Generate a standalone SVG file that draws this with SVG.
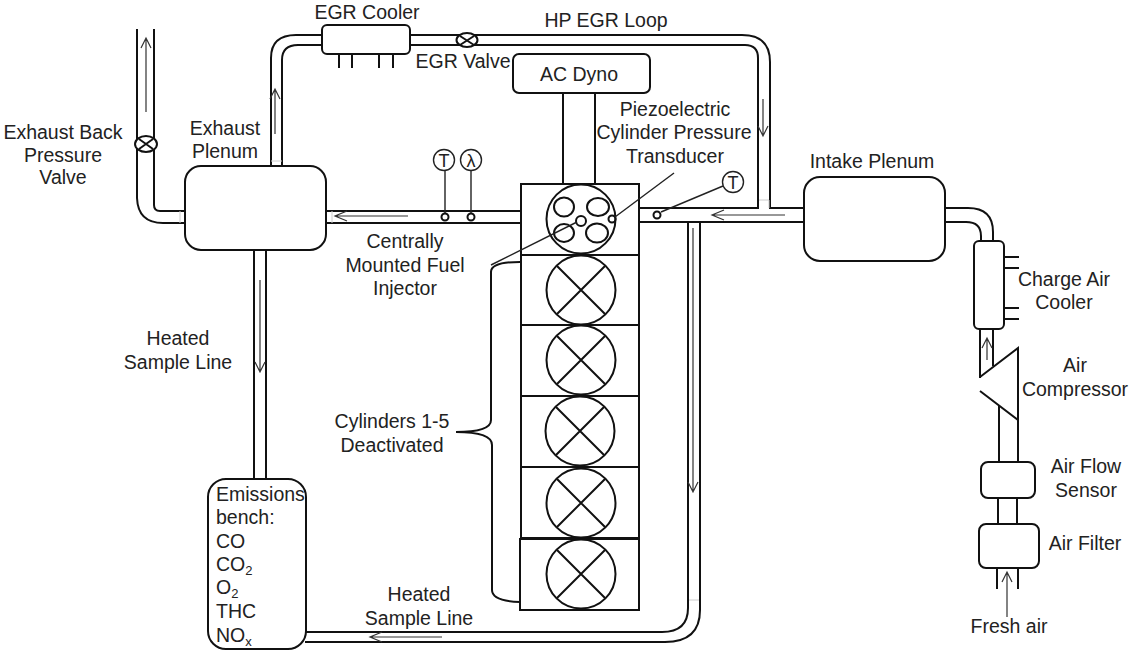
<svg xmlns="http://www.w3.org/2000/svg" width="1137" height="651" viewBox="0 0 1137 651">
<style>
text{font-family:"Liberation Sans",Arial,sans-serif;font-size:19.500px;fill:#222;text-anchor:middle}
.l{text-anchor:start}
.s{font-size:13px}
.t{font-size:18px}
.p{fill:none;stroke:#111;stroke-width:2}
.b{fill:#fff;stroke:#111;stroke-width:2}
.a{fill:none;stroke:#333;stroke-width:1.200}
.f{fill:none;stroke:#222;stroke-width:1.400}
.g{fill:none;stroke:#ccc;stroke-width:1}
</style>
<defs>
<g id="xc"><circle r="34.500" class="b"/><path class="p" d="M-24-24 24 24M-24 24 24-24"/></g>
</defs>
<g id="connectors">
<path class="p" d="M137 29V198Q138 223 163 223H186"/>
<path class="p" d="M154 29V205Q154 211 160 211H186"/>
<path class="p" d="M271 166V58Q271 35 296 35H323"/>
<path class="p" d="M282 166V60Q282 45 298 45H323"/>
<path class="p" d="M410 35H742Q770 35 770 62V208H804"/>
<path class="p" d="M410 45H745Q758 45 758 58V208H639"/>
<path class="p" d="M326 211H522M326 223H523"/>
<path class="p" d="M639 222H804"/>
<path class="p" d="M563 93V184M595 93V184"/>
<path class="p" d="M254 249V479M266 249V479"/>
<path class="p" d="M688 222V608Q688 632 662 632H305"/>
<path class="p" d="M700 222V610Q700 642 665 642H305"/>
<path class="p" d="M945 208H968Q993 208 993 232V241M945 222H966Q981 222 981 236V241"/>
<path class="p" d="M980 329V378M993 329V366"/>
<path class="p" d="M999 406V462M1018 419V462M998 498V524M1017 498V524M997 568V589M1018 568V589"/>
<path class="p" d="M339 54V68M352 54V68M379 54V68M393 54V68"/>
<path class="p" d="M1004 257H1019M1004 268H1019M1004 308H1019M1004 319H1019"/>
<path class="g" d="M180 211V223M271 161H282M332 211V223M759 200H769V208M689 600H699"/>
</g>
<g id="flow-arrows">
<path class="a" d="M146 112V38M141 48 146 38 151 48"/>
<path class="a" d="M275 134V89M270 99 275 89 280 99"/>
<path class="a" d="M408 216H335M347 211 335 216 347 221"/>
<path class="a" d="M763 99V136M758 126 763 136 768 126"/>
<path class="a" d="M785 215H712M724 210 712 215 724 220"/>
<path class="a" d="M260 280V372M255 362 260 372 265 362"/>
<path class="a" d="M693 228V492M688 482 693 492 698 482"/>
<path class="a" d="M442 637H370M382 632 370 637 382 642"/>
<path class="a" d="M987 360V338M982 348 987 338 992 348"/>
<path class="a" d="M1007 617V572M1002 582 1007 572 1012 582"/>
</g>
<g id="egr-valve"><ellipse cx="467" cy="40" rx="10.500" ry="7" class="b"/><path class="p" d="M460 36 474 45M460 45 474 36"/></g>
<g id="back-valve"><ellipse cx="146" cy="144" rx="11" ry="8" class="b"/><path class="p" d="M139 139 153 149M139 149 153 139"/></g>
<g id="egr-cooler"><rect x="322" y="25" width="88" height="29" rx="5" class="b"/></g>
<g id="ac-dyno"><rect x="513" y="54" width="137" height="39" rx="6" class="b"/><text x="579" y="81">AC Dyno</text></g>
<g id="exhaust-plenum"><rect x="185" y="166" width="141" height="84" rx="16" class="b"/></g>
<g id="intake-plenum"><rect x="804" y="177" width="141" height="84" rx="16" class="b"/></g>
<g id="charge-air-cooler"><rect x="974" y="241" width="30" height="88" rx="5" class="b"/></g>
<g id="compressor"><path class="p" d="M980 377 1018 348V420L980 391"/></g>
<g id="air-flow-sensor"><rect x="981" y="462" width="54" height="36" rx="7" class="b"/></g>
<g id="air-filter"><rect x="979" y="524" width="60" height="44" rx="7" class="b"/></g>
<g id="emissions-bench"><rect x="208" y="479" width="98" height="170" rx="18" class="b"/>
<text class="l" x="216" y="501">Emissions</text><text class="l" x="216" y="524">bench:</text><text class="l" x="216" y="548">CO</text>
<text class="l" x="216" y="571">CO<tspan class="s" dy="4">2</tspan></text>
<text class="l" x="216" y="594">O<tspan class="s" dy="4">2</tspan></text>
<text class="l" x="216" y="618">THC</text>
<text class="l" x="216" y="642">NO<tspan class="s" dy="4">x</tspan></text></g>
<g id="cylinder-0"><rect x="521" y="184" width="118" height="71" class="b"/>
<circle cx="581" cy="219" r="34.500" class="b"/>
<ellipse cx="564" cy="207" rx="10" ry="9.500" class="p"/><ellipse cx="598" cy="207" rx="11" ry="9" class="p"/><ellipse cx="564" cy="233" rx="10" ry="9" class="p"/><ellipse cx="597" cy="233" rx="11" ry="9.500" class="p"/><circle cx="581" cy="221" r="5" class="p"/><circle cx="612" cy="219" r="3.500" class="p"/></g>
<g id="cylinder-1"><rect x="521" y="255" width="118" height="70" class="b"/><use href="#xc" x="581" y="290"/></g>
<g id="cylinder-2"><rect x="521" y="325" width="118" height="71" class="b"/><use href="#xc" x="581" y="360"/></g>
<g id="cylinder-3"><rect x="521" y="396" width="118" height="71" class="b"/><use href="#xc" x="580" y="431"/></g>
<g id="cylinder-4"><rect x="521" y="467" width="118" height="71" class="b"/><use href="#xc" x="581" y="503"/></g>
<g id="cylinder-5"><rect x="520" y="539" width="119" height="71" class="b"/><use href="#xc" x="581" y="574"/></g>
<g id="sensors">
<circle cx="444" cy="160" r="10.500" class="f"/><text class="t" x="444" y="166.500">T</text><path class="f" d="M445 171V213"/><circle cx="445" cy="217" r="3.500" class="b"/>
<circle cx="471" cy="160" r="10.500" class="f"/><text class="t" x="471" y="166.500">λ</text><path class="f" d="M471 171V213"/><circle cx="471" cy="217" r="3.500" class="b"/>
<circle cx="733" cy="182" r="10.500" class="f"/><text class="t" x="733" y="188.500">T</text><path class="f" d="M723 186 661 212"/><circle cx="657" cy="215" r="3.500" class="b"/>
</g>
<g id="leaders">
<path class="f" d="M674 173 615 217"/>
<path class="f" d="M577 222 491 265"/>
<path class="p" d="M520 262Q491 262 491 272V420Q491 432 456 432Q492 432 492 445V590Q492 601 520 602"/>
</g>
<g id="labels">
<text x="367" y="19">EGR Cooler</text>
<text x="606" y="27">HP EGR Loop</text>
<text x="463" y="68">EGR Valve</text>
<text x="225" y="135">Exhaust</text><text x="225" y="158">Plenum</text>
<text x="63" y="139">Exhaust Back</text><text x="63" y="162">Pressure</text><text x="63" y="184">Valve</text>
<text x="675" y="116">Piezoelectric</text><text x="674" y="139">Cylinder Pressure</text><text x="675" y="163">Transducer</text>
<text x="405" y="248">Centrally</text><text x="405" y="272">Mounted Fuel</text><text x="405" y="295">Injector</text>
<text x="178" y="345">Heated</text><text x="178" y="369">Sample Line</text>
<text x="392" y="428">Cylinders 1-5</text><text x="392" y="452">Deactivated</text>
<text x="419" y="601">Heated</text><text x="419" y="625">Sample Line</text>
<text x="872" y="168">Intake Plenum</text>
<text x="1064" y="286">Charge Air</text><text x="1064" y="309">Cooler</text>
<text x="1075" y="372">Air</text><text x="1075" y="396">Compressor</text>
<text x="1086" y="473">Air Flow</text><text x="1086" y="497">Sensor</text>
<text x="1085" y="550">Air Filter</text>
<text x="1009" y="633">Fresh air</text>
</g>
</svg>
